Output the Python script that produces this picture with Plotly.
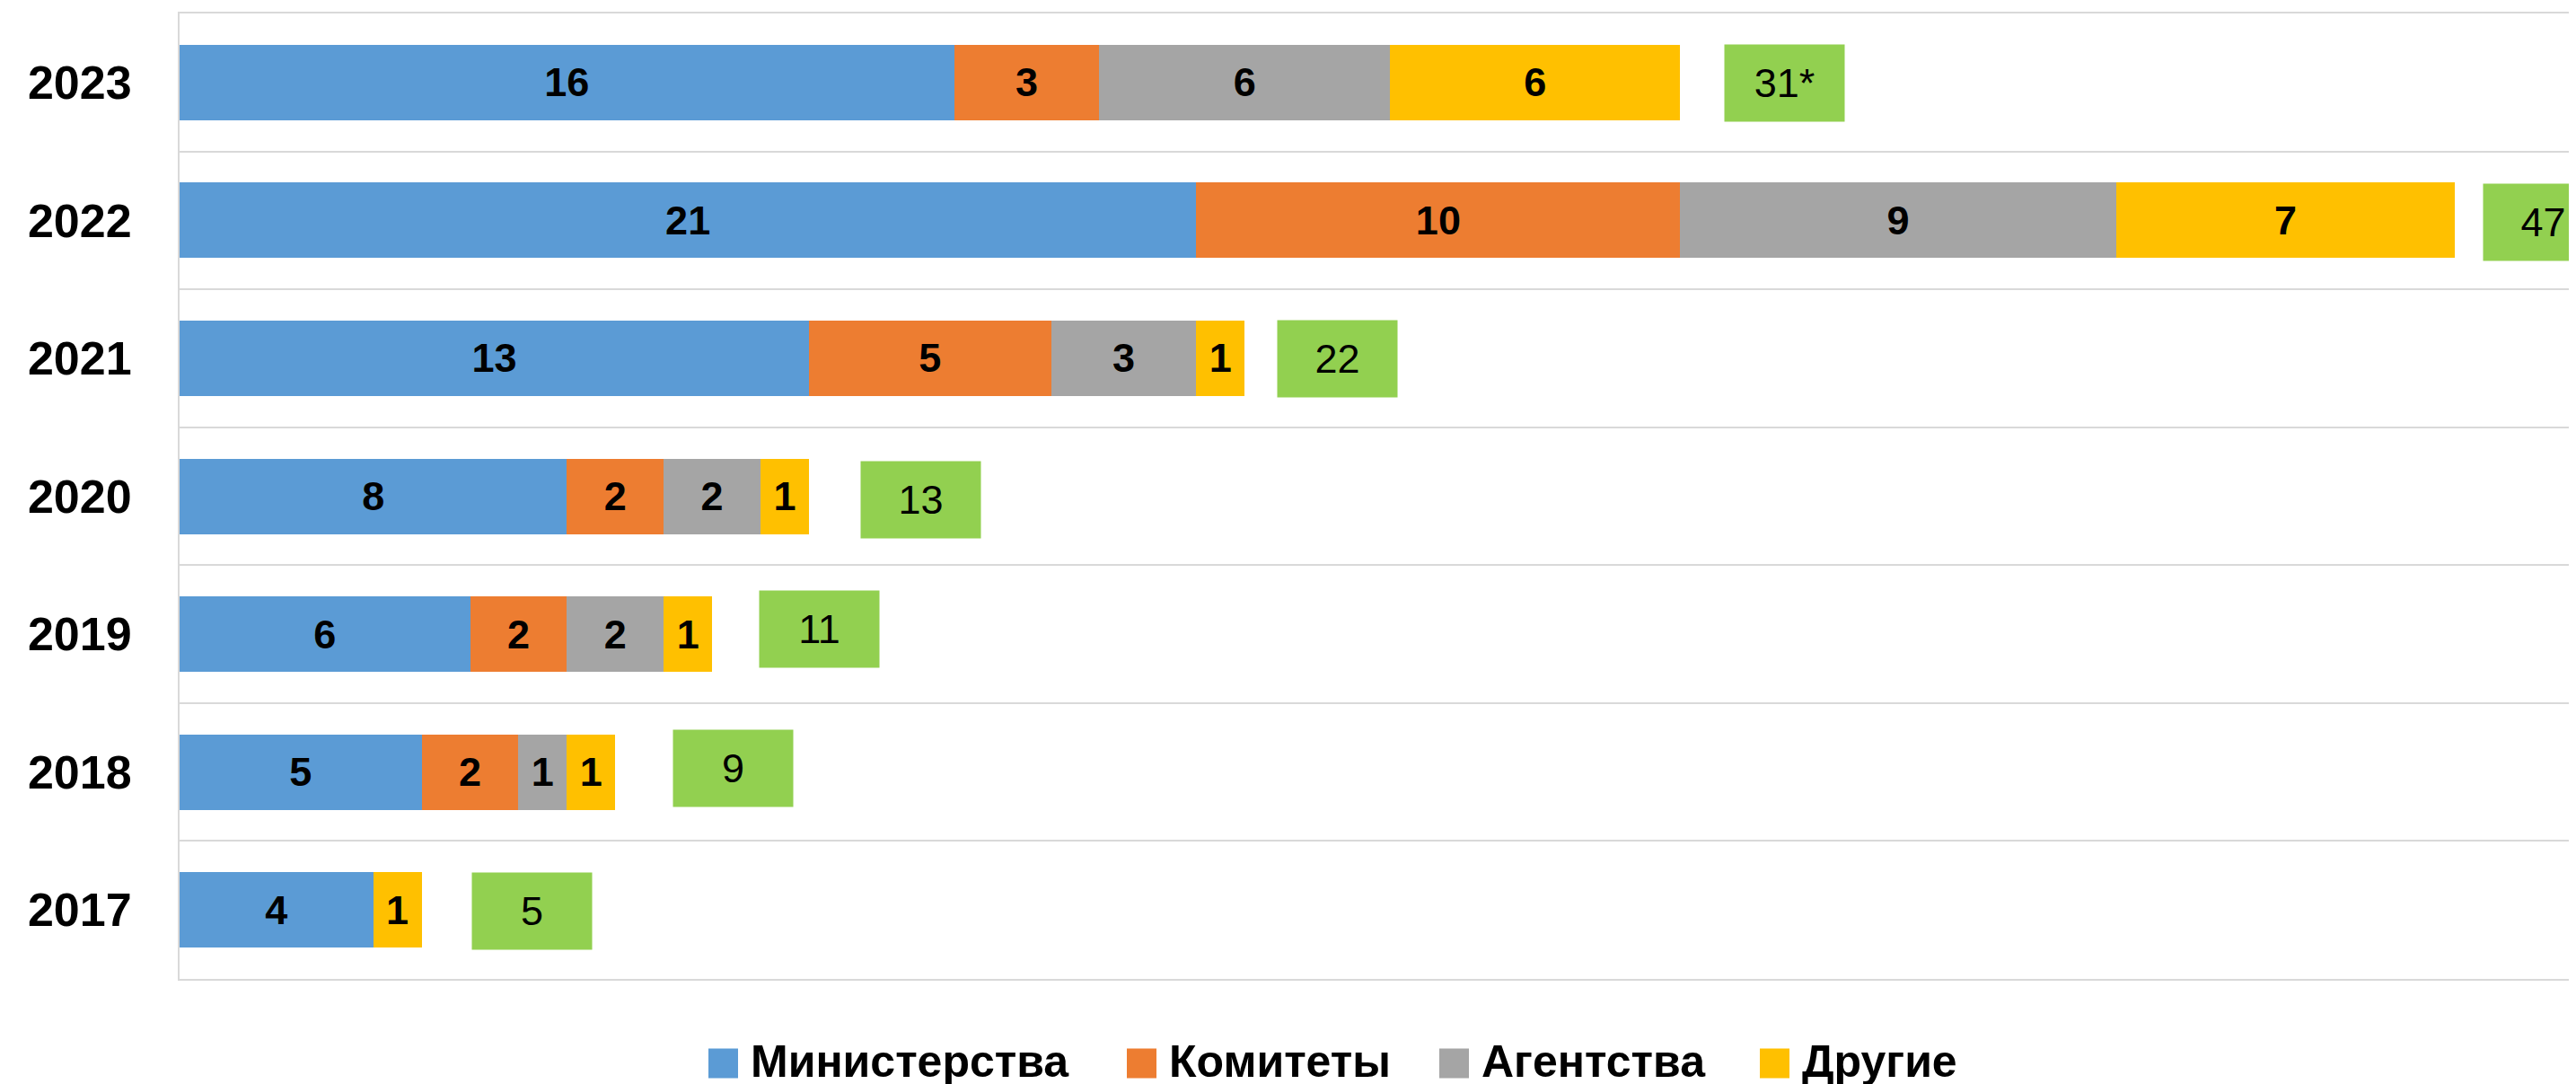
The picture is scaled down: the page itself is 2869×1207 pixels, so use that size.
import plotly.graph_objects as go

# ---------------- data ----------------
years = ["2017", "2018", "2019", "2020", "2021", "2022", "2023"]
ministries = [4, 5, 6, 8, 13, 21, 16]
committees = [0, 2, 2, 2, 5, 10, 3]
agencies = [0, 1, 2, 2, 3, 9, 6]
others = [1, 1, 1, 1, 1, 7, 6]
total_suffix = ["", "", "", "", "", "", "*"]
series_names = ["Министерства", "Комитеты", "Агентства", "Другие"]

# ---------------- style ----------------
colors = ["#5B9BD5", "#ED7D31", "#A5A5A5", "#FFC000"]
total_color = "#92D050"
FONT = "Liberation Sans, Arial, sans-serif"
# page body has an 8px margin; figure sized so that it fills the window
OFF = 8
W, H = 2869 - OFF, 1207 - OFF
L, R, T, B = 192, 0, 7, 117
plot_w = W - L - R
plot_h = H - T - B
XMAX = 49.5

# label nudges (pixels) of the total boxes, as placed in the original
box_dx = [55, 64, 52, 57, 36, 31, 49]
box_dy = [-1, 4, 6, -4, -1, -2, -1]

series = [ministries, committees, agencies, others]
totals = [sum(v) for v in zip(*series)]

fig = go.Figure()
for name, vals, col in zip(series_names, series, colors):
    fig.add_trace(go.Bar(
        y=years, x=vals, name=name, orientation="h",
        marker=dict(color=col, line=dict(width=0)),
        text=[str(v) if v else "" for v in vals],
        textposition="inside", insidetextanchor="middle",
        textfont=dict(family=FONT, size=45, color="black", weight="bold"),
        showlegend=False,
    ))

# totals boxes (y given as category index)
for i, (tot, suf) in enumerate(zip(totals, total_suffix)):
    fig.add_annotation(
        x=tot, y=i, xref="x", yref="y", xanchor="left", yanchor="middle",
        xshift=box_dx[i], yshift=box_dy[i], text=f"{tot}{suf}", showarrow=False,
        bgcolor=total_color, width=133, height=85, borderpad=0,
        font=dict(family=FONT, size=45, color="black"),
        align="center", valign="middle",
    )

# custom legend (big squares like the original), positions in window pixels
def px2x(sx):
    return (sx - OFF - L) / plot_w

def py2y(sy):
    return (H - B - (sy - OFF)) / plot_h

legend_sq_left = [789, 1255, 1603, 1960]
sq = 33
sq_cy = 1184
txt_cy = 1182
for name, col, x0 in zip(series_names, colors, legend_sq_left):
    fig.add_shape(type="rect", xref="paper", yref="paper",
                  x0=px2x(x0), x1=px2x(x0 + sq),
                  y0=py2y(sq_cy + sq / 2), y1=py2y(sq_cy - sq / 2),
                  fillcolor=col, line=dict(width=0))
    fig.add_annotation(x=px2x(x0 + sq + 12), y=py2y(txt_cy), xref="paper", yref="paper",
                       xanchor="left", yanchor="middle", text=name, showarrow=False,
                       font=dict(family=FONT, size=50, color="black", weight="bold"))

fig.update_layout(
    barmode="stack", bargap=0.453,
    width=W, height=H,
    margin=dict(l=L, r=R, t=T, b=B, autoexpand=False),
    paper_bgcolor="white", plot_bgcolor="white",
    showlegend=False,
    xaxis=dict(range=[0, XMAX], showgrid=False, zeroline=False,
               showticklabels=False, ticks="", fixedrange=True,
               showline=True, mirror=True, linecolor="#D9D9D9", linewidth=2),
    yaxis=dict(type="category", categoryorder="array", categoryarray=years,
               range=[-0.5, len(years) - 0.5],
               tickson="boundaries", ticks="", showgrid=True,
               gridcolor="#D9D9D9", gridwidth=2,
               showline=True, linecolor="#D9D9D9", linewidth=2,
               ticklabelstandoff=41, automargin=False,
               tickfont=dict(family=FONT, size=52, color="black", weight="bold")),
)

fig.write_html("out.html")
